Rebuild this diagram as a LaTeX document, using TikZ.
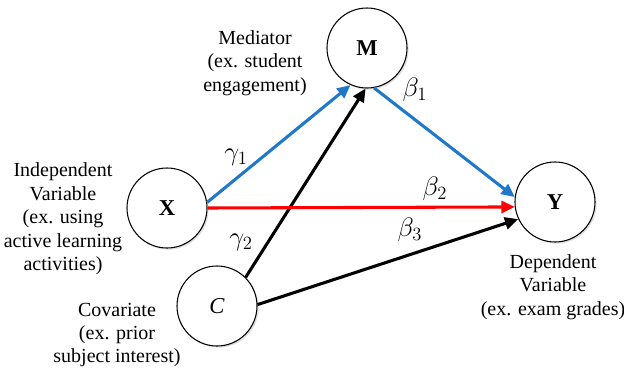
\documentclass[tikz,border=0pt]{standalone}
\usepackage{fix-cm}
\usepackage{fontspec}
\setmainfont{Liberation Serif}
\usepackage{tikz}
\usetikzlibrary{arrows.meta,positioning,shadows}
\definecolor{medBlue}{HTML}{1F78C8}
\definecolor{dirRed}{HTML}{FF0000}
\definecolor{covBlack}{HTML}{000000}
\tikzset{
  varNode/.style={
    circle,
    draw=black,
    fill=white,
    thick,
    minimum size=60pt,
    inner sep=0pt,
    font=\fontsize{17}{20}\selectfont,
    drop shadow={opacity=0.25, shadow xshift=1.2pt, shadow yshift=-1.2pt}
  },
  varText/.style={align=center, inner sep=0pt},
  coefText/.style={inner sep=0pt, font=\fontsize{20}{24}\selectfont},
  pathArrow/.style={-{Triangle[length=10pt, width=9pt]}, line width=2.3pt}
}

\begin{document}
\begin{tikzpicture}[x=0.75pt, y=-0.75pt, font=\fontsize{15}{17.6}\selectfont]
  \useasboundingbox (0,0) rectangle (624,371);

  % variables
  \node[varNode] (med) at (367,48) {\textbf{M}};
  \node[varNode] (ind) at (167,208) {\textbf{X}};
  \node[varNode] (dep) at (555,202) {\textbf{Y}};
  \node[varNode] (cov) at (217,306) {\textit{C}};

  % descriptions
  \node[varText] (medLabel) at (255,63) {Mediator\\(ex. student\\engagement)};
  \node[varText] (indLabel) at (63,219) {Independent\\Variable\\(ex. using\\active learning\\activities)};
  \node[varText] (covLabel) at (117,335) {Covariate\\(ex. prior\\subject interest)};
  \node[varText] (depLabel) at (553,287) {Dependent\\Variable\\(ex. exam grades)};

  % paths
  \draw[pathArrow, covBlack] (cov.45) -- (med.268);
  \draw[pathArrow, covBlack] (cov.2) -- (dep.205);
  \draw[pathArrow, medBlue] (ind.8) -- (med.246);
  \draw[pathArrow, medBlue] (med.280) -- (dep.173);
  \draw[pathArrow, dirRed] (ind.0) -- (dep.187);

  % coefficients
  \node[coefText] (g1) at (236,157) {$\gamma_1$};
  \node[coefText] (g2) at (241,242) {$\gamma_2$};
  \node[coefText] (b1) at (415,90) {$\beta_1$};
  \node[coefText] (b2) at (435,189) {$\beta_2$};
  \node[coefText] (b3) at (410,230) {$\beta_3$};
\end{tikzpicture}
\end{document}
